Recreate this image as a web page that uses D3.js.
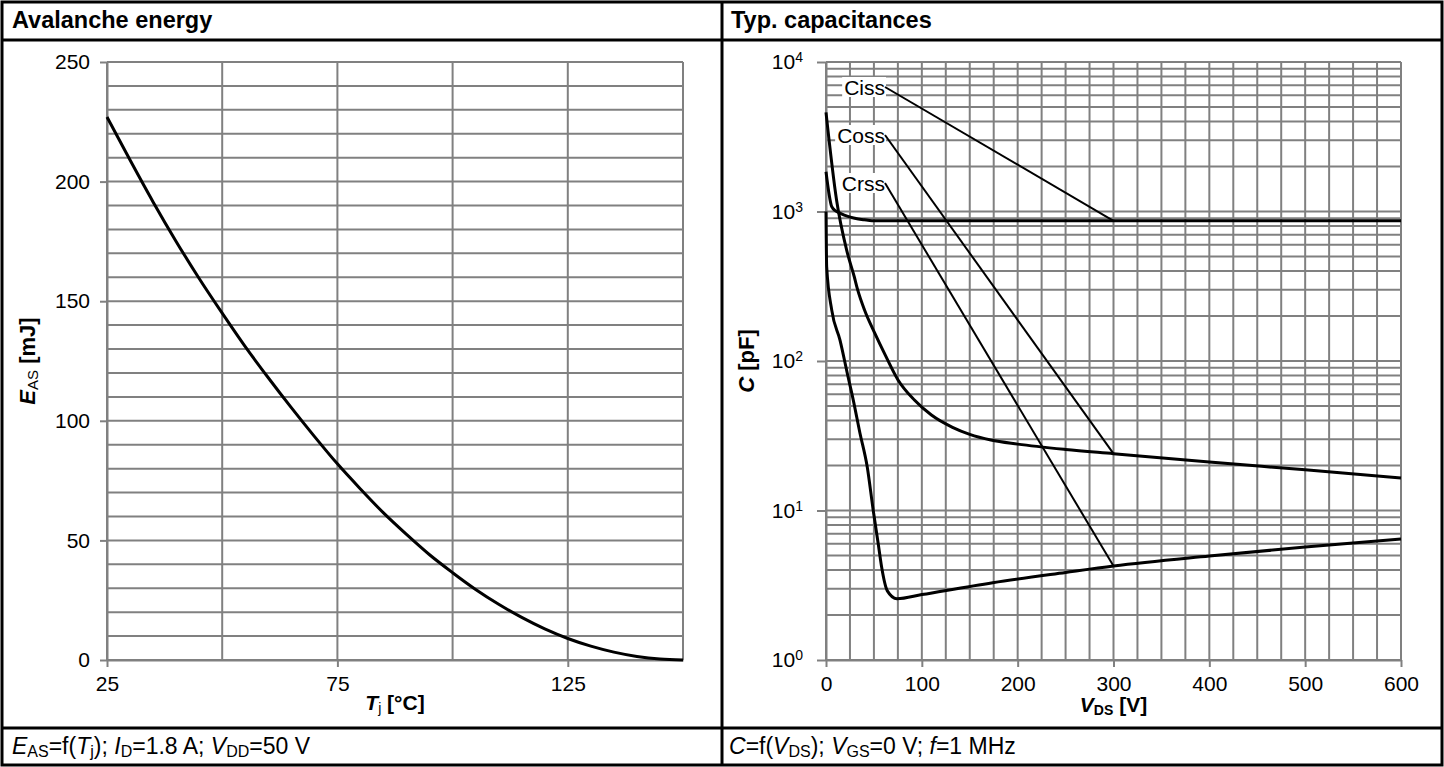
<!DOCTYPE html>
<html>
<head>
<meta charset="utf-8">
<script src="https://cdn.jsdelivr.net/npm/d3@7"></script>
<style>
    body { margin: 0; background: #fff; }
    svg { display: block; font-family: Arial, "Liberation Sans", sans-serif; }
    .grid line { stroke: #808080; stroke-width: 2; }
    .axis path, .axis line { stroke: #808080; stroke-width: 2; }
    .axis text { font-size: 21px; fill: #000; font-family: Arial, "Liberation Sans", sans-serif; }
</style>
</head>
<body>
<div id="chart"></div>
<script>
// ---- data ----

// Avalanche energy vs junction temperature
var tjValues  = [25, 30, 35, 40, 45, 50, 55, 60, 65, 70, 75, 80, 85, 90, 95, 100, 105, 110, 115, 120, 125, 130, 135, 140, 145, 150];
var easValues = [227, 209, 191.5, 175, 159.5, 145, 131, 118, 105.5, 93.5, 82, 71.5, 61.5, 52.5, 44, 36.5, 29.5, 23.3, 17.8, 13, 9, 5.8, 3.3, 1.5, 0.4, 0];
var tjTicks  = [25, 75, 125];
var easTicks = [0, 50, 100, 150, 200, 250];

// Typical capacitances vs drain-source voltage
var cissV = [0, 6, 10, 15, 22, 30, 40, 48, 100, 200, 300, 400, 500, 600];
var cissC = [1846, 1077, 1010, 973, 930, 901, 880, 868, 867, 867, 867, 867, 867, 867];

var cossV = [0, 11, 21.5, 29.5, 33, 40, 51, 62, 75, 92, 110, 132, 150, 172, 200, 250, 300, 400, 500, 600];
var cossC = [4600, 1194, 553, 366, 300, 221, 153, 109, 75, 55, 43.5, 36, 32.3, 29.6, 27.8, 25.6, 24, 21.1, 18.7, 16.5];

var crssV = [0, 0.7, 6, 14.6, 23, 28.4, 35.4, 43, 49.3, 54.5, 58, 64, 74, 100, 174, 250, 300, 400, 500, 600];
var crssC = [1000, 427, 219, 138, 78.5, 55, 33, 19.6, 10, 6, 4.2, 2.9, 2.57, 2.74, 3.29, 3.85, 4.25, 4.96, 5.7, 6.45];

var capNames  = ["Ciss", "Coss", "Crss"];
var vdsTicks  = [0, 100, 200, 300, 400, 500, 600];
var capTicks  = [1, 10, 100, 1000, 10000];
var leaderAtV = 300;   // labels point to the curves at this voltage

// ---- page ----
var svgWidth = 1444;
var svgHeight = 767;

var svg = d3.select("#chart")
    .append("svg")
    .attr("width", svgWidth)
    .attr("height", svgHeight);

// helper: text made of pieces (italic / subscript / bold)
function richText(sel, parts, subSize) {
    var shift = 0;
    parts.forEach(function (p) {
        var ts = sel.append("tspan").text(p.t);
        var target = p.sub ? 3 : 0;
        if (target !== shift) {
            ts.attr("dy", target - shift);
            shift = target;
        }
        if (p.sub) ts.attr("font-size", subSize);
        if (p.it) ts.attr("font-style", "italic");
        if (p.w) ts.attr("font-weight", p.w);
    });
}

// ================= left: avalanche energy =================
var xT = d3.scaleLinear().domain([25, 150]).range([107, 683]);
var yE = d3.scaleLinear().domain([0, 250]).range([660, 62]);

var left = svg.append("g").attr("class", "avalanche");

var gridL = left.append("g").attr("class", "grid");
gridL.selectAll("line.v")
    .data(d3.range(25, 151, 25))
    .enter().append("line")
    .attr("x1", d => xT(d)).attr("x2", d => xT(d))
    .attr("y1", yE(0)).attr("y2", yE(250));
gridL.selectAll("line.h")
    .data(d3.range(0, 251, 10))
    .enter().append("line")
    .attr("x1", xT(25)).attr("x2", xT(150))
    .attr("y1", d => yE(d)).attr("y2", d => yE(d));

left.append("g")
    .attr("class", "axis")
    .attr("transform", `translate(${xT(25)}, 0)`)
    .call(d3.axisLeft(yE).tickValues(easTicks).tickSize(7).tickSizeOuter(0).tickPadding(10));

left.append("g")
    .attr("class", "axis")
    .attr("transform", `translate(0, ${yE(0)})`)
    .call(d3.axisBottom(xT).tickValues(tjTicks).tickSize(7).tickSizeOuter(0).tickPadding(9));

var easLine = d3.line()
    .x(d => xT(d[0]))
    .y(d => yE(d[1]))
    .curve(d3.curveMonotoneX);

left.append("path")
    .datum(d3.zip(tjValues, easValues))
    .attr("fill", "none")
    .attr("stroke", "#000")
    .attr("stroke-width", 3)
    .attr("d", easLine);

// axis titles
richText(left.append("text")
    .attr("transform", `translate(35, ${(yE(0) + yE(250)) / 2}) rotate(-90)`)
    .attr("text-anchor", "middle")
    .attr("font-size", 22)
    .attr("font-weight", "bold"),
    [{ t: "E", it: true }, { t: "AS", sub: true, w: "normal" }, { t: " [mJ]" }], 15);

richText(left.append("text")
    .attr("x", (xT(25) + xT(150)) / 2)
    .attr("y", 710)
    .attr("text-anchor", "middle")
    .attr("font-size", 21)
    .attr("font-weight", "bold"),
    [{ t: "T", it: true }, { t: "j", sub: true, w: "normal" }, { t: " [°C]" }], 14);

// ================= right: capacitances =================
var xV = d3.scaleLinear().domain([0, 600]).range([826, 1401]);
var yC = d3.scaleLog().domain([1, 10000]).range([660, 62]);

var right = svg.append("g").attr("class", "capacitances");

var logLines = [];
[1, 10, 100, 1000].forEach(function (dec) {
    for (var m = 1; m < 10; m++) logLines.push(m * dec);
});
logLines.push(10000);

var gridR = right.append("g").attr("class", "grid");
gridR.selectAll("line.v")
    .data(d3.range(0, 601, 25))
    .enter().append("line")
    .attr("x1", d => xV(d)).attr("x2", d => xV(d))
    .attr("y1", yC(1)).attr("y2", yC(10000));
gridR.selectAll("line.h")
    .data(logLines)
    .enter().append("line")
    .attr("x1", xV(0)).attr("x2", xV(600))
    .attr("y1", d => yC(d)).attr("y2", d => yC(d));

var yAxisR = right.append("g")
    .attr("class", "axis")
    .attr("transform", `translate(${xV(0)}, 0)`)
    .call(d3.axisLeft(yC).tickValues(capTicks).tickSize(9).tickSizeOuter(0).tickPadding(14).tickFormat(() => "10"));

yAxisR.selectAll(".tick text")
    .append("tspan")
    .attr("dy", -7)
    .attr("font-size", 14)
    .text(d => Math.round(Math.log10(d)));

right.append("g")
    .attr("class", "axis")
    .attr("transform", `translate(0, ${yC(1)})`)
    .call(d3.axisBottom(xV).tickValues(vdsTicks).tickSize(7).tickSizeOuter(0).tickPadding(9));

var capLine = d3.line()
    .x(d => xV(d[0]))
    .y(d => yC(d[1]))
    .curve(d3.curveMonotoneX);

var capSeries = [
    { name: capNames[0], v: cissV, c: cissC, lx: 885, ly: 95 },
    { name: capNames[1], v: cossV, c: cossC, lx: 885, ly: 143 },
    { name: capNames[2], v: crssV, c: crssC, lx: 885, ly: 191 }
];

right.selectAll("path.cap")
    .data(capSeries)
    .enter().append("path")
    .attr("class", "cap")
    .attr("fill", "none")
    .attr("stroke", "#000")
    .attr("stroke-width", 3)
    .attr("d", d => capLine(d3.zip(d.v, d.c)));

// labels with white boxes and leader lines
capSeries.forEach(function (s) {
    var lab = right.append("g");
    var box = lab.append("rect").attr("fill", "#fff");
    var txt = lab.append("text")
        .attr("x", s.lx)
        .attr("y", s.ly)
        .attr("text-anchor", "end")
        .attr("font-size", 21)
        .text(s.name);
    var bb = txt.node().getBBox();
    box.attr("x", bb.x - 2).attr("y", bb.y + 1)
        .attr("width", bb.width + 3).attr("height", bb.height - 3);

    var i = s.v.indexOf(leaderAtV);
    lab.append("line")
        .attr("x1", s.lx).attr("y1", s.ly - 8)
        .attr("x2", xV(s.v[i])).attr("y2", yC(s.c[i]))
        .attr("stroke", "#000")
        .attr("stroke-width", 2);
});

// axis titles
richText(right.append("text")
    .attr("transform", `translate(754, ${(yC(1) + yC(10000)) / 2}) rotate(-90)`)
    .attr("text-anchor", "middle")
    .attr("font-size", 22)
    .attr("font-weight", "bold"),
    [{ t: "C", it: true }, { t: " [pF]" }], 15);

richText(right.append("text")
    .attr("x", (xV(0) + xV(600)) / 2)
    .attr("y", 712)
    .attr("text-anchor", "middle")
    .attr("font-size", 21)
    .attr("font-weight", "bold"),
    [{ t: "V", it: true }, { t: "DS", sub: true }, { t: " [V]" }], 14);

// ================= frame, titles, captions =================
var frame = svg.append("g")
    .attr("fill", "none")
    .attr("stroke", "#000")
    .attr("stroke-width", 3);
frame.append("rect").attr("x", 2).attr("y", 2).attr("width", 1440).attr("height", 763);
frame.append("line").attr("x1", 2).attr("x2", 1442).attr("y1", 40).attr("y2", 40);
frame.append("line").attr("x1", 2).attr("x2", 1442).attr("y1", 728).attr("y2", 728);
frame.append("line").attr("x1", 722).attr("x2", 722).attr("y1", 2).attr("y2", 765);

svg.append("text")
    .attr("x", 12).attr("y", 28)
    .attr("font-size", 23.5).attr("font-weight", "bold")
    .text("Avalanche energy");
svg.append("text")
    .attr("x", 731).attr("y", 28)
    .attr("font-size", 23.5).attr("font-weight", "bold")
    .text("Typ. capacitances");

richText(svg.append("text").attr("x", 12).attr("y", 754).attr("font-size", 23),
    [{ t: "E", it: true }, { t: "AS", sub: true }, { t: "=f(" }, { t: "T", it: true }, { t: "j", sub: true },
     { t: "); " }, { t: "I", it: true }, { t: "D", sub: true }, { t: "=1.8 A; " },
     { t: "V", it: true }, { t: "DD", sub: true }, { t: "=50 V" }], 16);

richText(svg.append("text").attr("x", 729).attr("y", 754).attr("font-size", 23),
    [{ t: "C", it: true }, { t: "=f(" }, { t: "V", it: true }, { t: "DS", sub: true }, { t: "); " },
     { t: "V", it: true }, { t: "GS", sub: true }, { t: "=0 V; " }, { t: "f", it: true }, { t: "=1 MHz" }], 16);
</script>
</body>
</html>
